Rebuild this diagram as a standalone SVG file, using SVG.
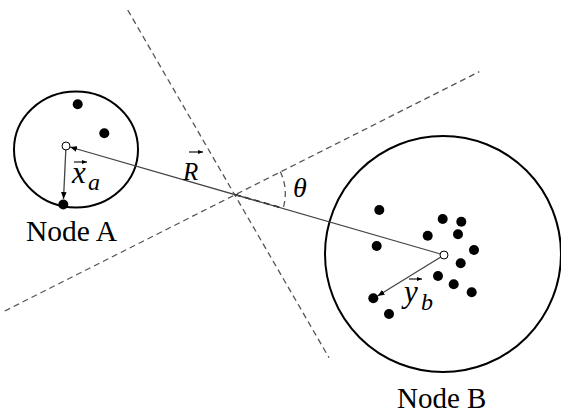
<svg xmlns="http://www.w3.org/2000/svg" width="561" height="416" viewBox="0 0 561 416">
<defs>
<marker id="ah" viewBox="0 0 10 10" refX="10" refY="5" markerWidth="7" markerHeight="7" orient="auto-start-reverse" markerUnits="userSpaceOnUse">
<path d="M0,1 L10,5 L0,9 Z" fill="#000"/>
</marker>
<marker id="sa" viewBox="0 0 10 10" refX="10" refY="5" markerWidth="5" markerHeight="5" orient="auto" markerUnits="userSpaceOnUse">
<path d="M0,1 L10,5 L0,9 Z" fill="#000"/>
</marker>
</defs>
<style>
.ring{fill:none;stroke:#000;stroke-width:2}
.dot{fill:#000}
.org{fill:#fff;stroke:#000;stroke-width:1}
.dash{fill:none;stroke:#555;stroke-width:1.3;stroke-dasharray:6 4}
.vec{stroke:#444;stroke-width:1.3;fill:none}
.acc{stroke:#000;stroke-width:1.1;fill:none}
</style>
<g id="guides">
<line class="dash" x1="127.7" y1="10" x2="329" y2="357.7"/>
<line class="dash" x1="4.7" y1="311" x2="479.3" y2="71.7"/>
<path class="dash" d="M280.3,171.7 A50,50 0 0 1 283.1,208.3" stroke="#333"/>
<line x1="235" y1="194.5" x2="283" y2="208.3" stroke="#000" stroke-width="1.6" stroke-dasharray="6 4"/>
</g>
<g id="nodeA">
<ellipse class="ring" cx="76" cy="149.5" rx="62" ry="58"/>
<circle class="dot" cx="77.7" cy="104.3" r="5"/>
<circle class="dot" cx="104.3" cy="133.3" r="5"/>
<circle class="dot" cx="63.3" cy="204.5" r="5"/>
<text x="26" y="241" font-family="Liberation Serif, Times New Roman, serif" font-size="29.5" fill="#000">Node A</text>
</g>
<g id="nodeB">
<circle class="ring" cx="443" cy="254" r="118"/>
<circle class="dot" cx="379.3" cy="210" r="5"/>
<circle class="dot" cx="442.7" cy="219" r="5"/>
<circle class="dot" cx="461.3" cy="221.7" r="5"/>
<circle class="dot" cx="427.7" cy="235.7" r="5"/>
<circle class="dot" cx="458" cy="234.3" r="5"/>
<circle class="dot" cx="376.7" cy="246" r="5"/>
<circle class="dot" cx="474" cy="250" r="5"/>
<circle class="dot" cx="460.7" cy="263.3" r="5"/>
<circle class="dot" cx="438" cy="276" r="5"/>
<circle class="dot" cx="453.7" cy="284.3" r="5"/>
<circle class="dot" cx="471.7" cy="292.3" r="5"/>
<circle class="dot" cx="373.3" cy="298.3" r="5"/>
<circle class="dot" cx="389" cy="314" r="5"/>
<text x="397" y="408" font-family="Liberation Serif, Times New Roman, serif" font-size="29" fill="#000">Node B</text>
</g>
<g id="connectors">
<line class="vec" x1="444" y1="255" x2="70" y2="147" marker-end="url(#ah)"/>
<line class="vec" x1="66" y1="146" x2="63.5" y2="199" marker-end="url(#ah)"/>
<line class="vec" x1="444" y1="255" x2="377.5" y2="296" marker-end="url(#ah)"/>
</g>
<g id="labels" font-family="Liberation Serif, DejaVu Serif, serif" font-style="italic" fill="#000">
<text x="72" y="183" font-size="31">x</text>
<text x="88" y="190" font-size="24">a</text>
<line class="acc" x1="74" y1="162" x2="87" y2="162" marker-end="url(#sa)"/>
<text x="183" y="180" font-size="25">R</text>
<line class="acc" x1="189" y1="152" x2="203" y2="152" marker-end="url(#sa)"/>
<text x="293" y="197" font-size="28">θ</text>
<text x="404" y="302" font-size="31">y</text>
<text x="421" y="310" font-size="24">b</text>
<line class="acc" x1="409" y1="279" x2="422" y2="279" marker-end="url(#sa)"/>
<circle class="org" cx="66" cy="146" r="4"/>
<circle class="org" cx="444" cy="255" r="4"/>
</g>
</svg>
